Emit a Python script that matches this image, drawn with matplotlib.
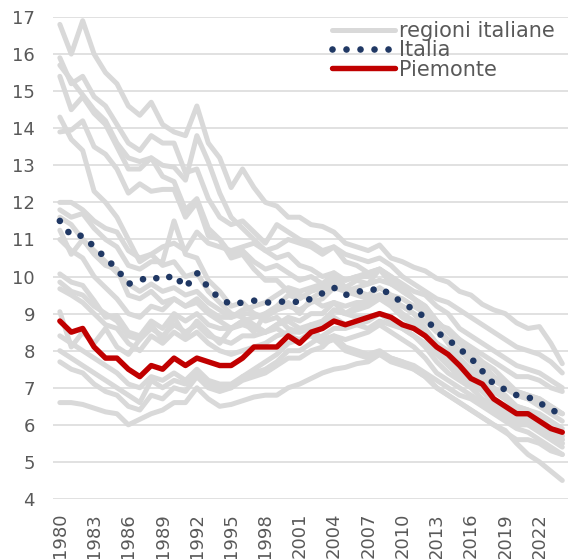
import matplotlib
matplotlib.use("Agg")
import matplotlib.pyplot as plt
import numpy as np

years = list(range(1980, 2025))

# gray lines: one series per Italian region (birth rate per 1000)
reg_h1 = [16.8, 16.0, 16.9, 16.0, 15.5, 15.2, 14.6, 14.35, 14.7, 14.1, 13.9, 13.8, 14.6, 13.6, 13.2,
          12.4, 12.9, 12.4, 12.0, 11.9, 11.6, 11.6, 11.4, 11.35, 11.2, 10.9, 10.8, 10.7, 10.85, 10.5,
          10.4, 10.25, 10.15, 9.95, 9.85, 9.6, 9.5, 9.25, 9.1, 9.0, 8.75, 8.6, 8.65, 8.2, 7.65]
reg_h2 = [15.9, 15.2, 15.4, 14.85, 14.6, 14.1, 13.6, 13.4, 13.8, 13.6, 13.6, 12.8, 12.9, 12.1, 11.6,
          11.4, 11.5, 11.2, 10.9, 11.4, 11.2, 11.0, 10.9, 10.7, 10.8, 10.4, 10.3, 10.1, 10.2, 10.0,
          9.8, 9.6, 9.5, 9.2, 9.0, 8.6, 8.4, 8.2, 8.0, 7.8, 7.6, 7.5, 7.4, 7.2, 7.0]
reg_h3 = [15.7, 15.3, 14.9, 14.5, 14.2, 13.6, 13.2, 13.1, 13.2, 13.0, 12.95, 12.6, 13.8, 13.1, 12.25,
          11.6, 11.3, 11.0, 10.7, 10.5, 10.6, 10.3, 10.2, 10.0, 10.1, 9.7, 9.6, 9.5, 9.7, 9.5,
          9.4, 9.2, 9.0, 8.7, 8.6, 8.3, 8.1, 7.9, 7.7, 7.5, 7.3, 7.3, 7.2, 7.0, 6.9]
reg_h4 = [15.4, 14.5, 14.85, 14.4, 14.1, 13.5, 12.9, 12.9, 13.2, 12.7, 12.56, 11.8, 12.1, 11.3, 11.0,
          10.6, 10.7, 10.4, 10.2, 10.3, 10.1, 9.9, 10.0, 9.8, 9.9, 9.6, 9.5, 9.4, 9.5, 9.3,
          9.2, 9.0, 8.8, 8.5, 8.3, 8.0, 7.8, 7.6, 7.3, 7.1, 6.9, 6.8, 6.7, 6.5, 6.3]
reg_h5 = [14.3, 13.7, 13.4, 12.3, 12.0, 11.6, 11.0, 10.4, 10.6, 10.3, 10.4, 10.0, 10.1, 9.6, 9.3,
          9.0, 8.9, 8.7, 8.5, 8.6, 8.4, 8.3, 8.4, 8.2, 8.3, 8.0, 7.9, 7.8, 7.9, 7.7,
          7.6, 7.5, 7.3, 7.0, 6.8, 6.6, 6.4, 6.2, 6.0, 5.85, 5.5, 5.2, 5.0, 4.75, 4.5]
reg_h6 = [13.9, 13.95, 14.2, 13.5, 13.3, 12.9, 12.25, 12.5, 12.3, 12.35, 12.35, 11.6, 12.0, 11.1, 11.0,
          10.5, 10.6, 10.2, 9.9, 9.9, 9.6, 9.5, 9.4, 9.2, 9.3, 9.0, 8.9, 8.9, 9.0, 8.8,
          8.7, 8.6, 8.4, 8.2, 8.0, 7.7, 7.5, 7.3, 7.0, 6.8, 6.5, 6.4, 6.2, 5.9, 5.5]
reg_m1 = [12.0, 12.0, 11.8, 11.5, 11.3, 11.2, 10.7, 10.5, 10.6, 10.8, 10.9, 10.7, 11.2, 10.9, 10.8,
          10.7, 10.8, 10.9, 10.7, 10.8, 11.0, 10.9, 10.8, 10.6, 10.8, 10.6, 10.5, 10.4, 10.5, 10.3,
          10.0, 9.8, 9.6, 9.4, 9.3, 9.1, 8.9, 8.7, 8.5, 8.3, 8.1, 8.0, 7.9, 7.7, 7.4]
reg_m2 = [11.8, 11.6, 11.7, 11.3, 11.0, 10.8, 10.3, 10.2, 10.4, 10.4, 11.5, 10.6, 10.5, 9.9, 9.6,
          9.2, 9.3, 9.0, 8.8, 8.9, 8.6, 8.5, 8.6, 8.3, 8.4, 8.1, 8.0, 7.9, 8.0, 7.8,
          7.7, 7.6, 7.4, 7.2, 7.0, 6.8, 6.7, 6.5, 6.3, 6.1, 5.9, 5.8, 5.6, 5.4, 5.2]
reg_m3 = [11.6, 11.4, 11.0, 10.7, 10.4, 10.1, 9.8, 9.6, 9.8, 9.6, 9.7, 9.5, 9.6, 9.3, 9.1,
          8.9, 9.0, 9.0, 8.9, 9.1, 9.2, 9.1, 9.3, 9.4, 9.7, 9.6, 9.7, 9.8, 9.9, 9.8,
          9.6, 9.4, 9.2, 8.8, 8.5, 8.2, 7.9, 7.6, 7.3, 7.0, 6.8, 6.7, 6.5, 6.3, 6.1]
reg_m4 = [11.25, 10.6, 11.0, 10.6, 10.3, 10.2, 9.5, 9.4, 9.6, 9.3, 9.4, 9.2, 9.3, 9.0, 8.8,
          8.6, 8.7, 8.6, 8.5, 8.7, 8.8, 8.6, 8.7, 8.6, 8.9, 8.7, 8.7, 8.6, 8.8, 8.7,
          8.6, 8.4, 8.2, 7.9, 7.6, 7.3, 7.1, 6.9, 6.7, 6.5, 6.3, 6.2, 6.0, 5.9, 5.7]
reg_m5 = [11.0, 10.7, 10.5, 10.0, 9.7, 9.4, 9.0, 8.9, 9.2, 9.1, 9.4, 9.2, 9.4, 9.1, 8.9,
          8.9, 9.1, 9.2, 9.3, 9.5, 9.7, 9.6, 9.7, 9.8, 10.1, 9.9, 10.0, 10.1, 10.2, 9.9,
          9.6, 9.4, 9.1, 8.6, 8.3, 8.0, 7.7, 7.4, 7.2, 7.0, 6.8, 6.7, 6.6, 6.4, 6.3]
reg_l1 = [10.07, 9.85, 9.76, 9.35, 8.9, 8.95, 8.5, 8.4, 8.8, 8.6, 9.0, 8.8, 9.0, 8.7, 8.6,
          8.6, 8.8, 8.9, 9.0, 9.2, 9.5, 9.4, 9.6, 9.7, 10.0, 9.9, 10.0, 10.0, 10.2, 10.0,
          9.7, 9.4, 9.2, 8.8, 8.5, 8.3, 8.0, 7.7, 7.5, 7.2, 6.9, 6.8, 6.7, 6.5, 6.3]
reg_l2 = [9.85, 9.6, 9.5, 9.2, 9.0, 8.8, 8.4, 8.3, 8.6, 8.4, 8.7, 8.5, 8.7, 8.4, 8.3,
          8.2, 8.4, 8.4, 8.5, 8.7, 8.9, 8.8, 9.0, 9.0, 9.3, 9.2, 9.3, 9.3, 9.5, 9.3,
          9.0, 8.8, 8.5, 8.1, 7.8, 7.5, 7.3, 7.0, 6.7, 6.5, 6.3, 6.2, 6.0, 5.8, 5.6]
reg_l3 = [9.67, 9.5, 9.3, 9.0, 8.7, 8.6, 8.2, 8.0, 8.4, 8.2, 8.5, 8.3, 8.5, 8.2, 8.0,
          7.9, 8.0, 8.1, 8.2, 8.4, 8.5, 8.5, 8.7, 8.8, 9.1, 9.0, 9.1, 9.2, 9.4, 9.2,
          8.9, 8.7, 8.4, 8.0, 7.7, 7.4, 7.2, 6.9, 6.6, 6.4, 6.2, 6.1, 5.9, 5.7, 5.5]
reg_l4 = [9.05, 8.1, 8.5, 8.2, 8.6, 8.1, 7.9, 8.3, 8.7, 8.3, 8.9, 8.4, 8.8, 8.5, 8.2,
          8.6, 8.8, 8.5, 9.0, 9.1, 9.3, 9.0, 9.4, 9.6, 9.8, 9.7, 9.9, 9.8, 10.2, 9.8,
          9.7, 9.4, 9.0, 8.6, 8.2, 7.8, 7.5, 7.2, 6.9, 6.7, 6.4, 6.3, 6.1, 5.9, 5.7]
reg_l5 = [8.4, 8.2, 8.0, 7.8, 7.6, 7.4, 7.1, 7.0, 7.3, 7.2, 7.4, 7.2, 7.5, 7.2, 7.1,
          7.1, 7.3, 7.4, 7.5, 7.7, 8.0, 8.0, 8.2, 8.4, 8.6, 8.6, 8.7, 8.8, 9.0, 8.8,
          8.6, 8.4, 8.1, 7.7, 7.4, 7.2, 7.0, 6.7, 6.5, 6.3, 6.1, 6.0, 5.9, 5.7, 5.6]
reg_l6 = [8.0, 7.8, 7.6, 7.4, 7.2, 7.0, 6.8, 6.6, 7.2, 7.0, 7.2, 7.1, 7.4, 7.1, 7.0,
          7.0, 7.2, 7.3, 7.4, 7.6, 7.8, 7.8, 8.0, 8.1, 8.4, 8.3, 8.4, 8.5, 8.7, 8.5,
          8.3, 8.1, 7.8, 7.4, 7.2, 7.0, 6.8, 6.6, 6.4, 6.2, 6.0, 6.0, 5.8, 5.6, 5.4]
reg_l7 = [7.7, 7.5, 7.4, 7.1, 6.9, 6.8, 6.5, 6.4, 6.8, 6.7, 7.0, 6.9, 7.3, 7.0, 6.9,
          7.0, 7.3, 7.5, 7.7, 7.9, 8.2, 8.3, 8.5, 8.7, 9.1, 9.0, 9.2, 9.3, 9.5, 9.4,
          9.2, 9.0, 8.6, 8.2, 7.9, 7.6, 7.4, 7.1, 6.9, 6.7, 6.5, 6.4, 6.3, 6.1, 5.9]
reg_l8 = [6.6, 6.6, 6.55, 6.45, 6.35, 6.3, 6.0, 6.15, 6.3, 6.4, 6.6, 6.6, 7.0, 6.7, 6.5,
          6.55, 6.65, 6.75, 6.8, 6.8, 7.0, 7.1, 7.25, 7.4, 7.5, 7.55, 7.65, 7.7, 7.9, 7.8,
          7.7, 7.5, 7.3, 7.0, 6.8, 6.6, 6.4, 6.2, 6.0, 5.8, 5.6, 5.6, 5.5, 5.3, 5.2]

regions = [reg_h1, reg_h2, reg_h3, reg_h4, reg_h5, reg_h6, reg_m1, reg_m2, reg_m3, reg_m4, reg_m5,
           reg_l1, reg_l2, reg_l3, reg_l4, reg_l5, reg_l6, reg_l7, reg_l8]

italia = [11.5, 11.1, 11.1, 10.8, 10.5, 10.2, 9.8, 9.9, 10.0, 9.9, 10.05, 9.7, 10.1, 9.7, 9.4,
          9.25, 9.3, 9.35, 9.3, 9.3, 9.35, 9.3, 9.4, 9.55, 9.7, 9.5, 9.6, 9.6, 9.7, 9.5,
          9.3, 9.1, 8.9, 8.5, 8.3, 8.05, 7.8, 7.45, 7.1, 6.95, 6.8, 6.75, 6.6, 6.4, 6.3]
piemonte = [8.8, 8.5, 8.6, 8.1, 7.8, 7.8, 7.5, 7.3, 7.6, 7.5, 7.8, 7.6, 7.8, 7.7, 7.6,
            7.6, 7.8, 8.1, 8.1, 8.1, 8.4, 8.2, 8.5, 8.6, 8.8, 8.7, 8.8, 8.9, 9.0, 8.9,
            8.7, 8.6, 8.4, 8.1, 7.9, 7.6, 7.25, 7.1, 6.7, 6.5, 6.3, 6.3, 6.1, 5.9, 5.8]

xtick_years = list(range(1980, 2023, 3))
ytick_vals = list(range(4, 18))

GRAY = '#d9d9d9'
NAVY = '#203864'
RED = '#c00000'
TXT = '#595959'

plt.rcParams['font.family'] = ['DejaVu Sans']

fig = plt.figure(figsize=(5.68, 5.59), dpi=100)
ax = fig.add_axes([53/568, 1 - 499/559, 515/568, 482/559])

for i, r in enumerate(regions):
    ax.plot(years, r, color=GRAY, lw=3.6, solid_joinstyle='round', solid_capstyle='round',
            label='regioni italiane' if i == 0 else None, zorder=2)
ax.plot(years, italia, color=NAVY, lw=4.8, linestyle=(0, (0.001, 2.1)),
        dash_capstyle='round', label='Italia', zorder=3)
ax.plot(years, piemonte, color=RED, lw=3.9, solid_joinstyle='round', solid_capstyle='round',
        label='Piemonte', zorder=4)

ax.set_xlim(1979.4, 2024.5)
ax.set_ylim(4, 17)
ax.set_yticks(ytick_vals)
ax.set_xticks(xtick_years)
ax.set_xticklabels([str(y) for y in xtick_years], rotation=90)
ax.tick_params(axis='both', length=0, labelsize=13, labelcolor=TXT)
ax.tick_params(axis='y', pad=13)
ax.tick_params(axis='x', pad=10)
ax.grid(axis='y', color=GRAY, lw=1.1)
ax.grid(axis='x', visible=False)
ax.set_axisbelow(True)
for s in ax.spines.values():
    s.set_visible(False)

leg = fig.legend(loc='upper left', bbox_to_anchor=(332/568, 1 - 21/559), frameon=False,
                 fontsize=15, handlelength=3.0, handletextpad=0.2, borderpad=0,
                 borderaxespad=0, labelspacing=-0.03)
for t in leg.get_texts():
    t.set_color(TXT)

fig.savefig('out.png', dpi=100)
